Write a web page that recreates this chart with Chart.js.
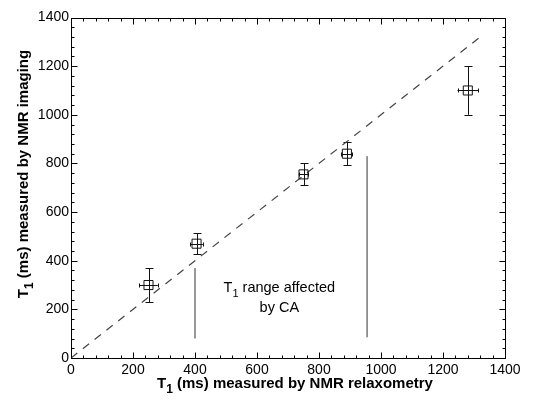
<!DOCTYPE html>
<html>
<head>
<meta charset="utf-8">
<script src="https://cdn.jsdelivr.net/npm/chart.js@4.4.0/dist/chart.umd.min.js"></script>
<style>
    html, body { margin: 0; padding: 0; background: #fff; }
    #wrap { width: 549px; height: 407px; }
</style>
</head>
<body>
<div id="wrap"><canvas id="graficoT1"></canvas></div>
<script>
// T1 (ms) por relaxometria vs imagen
const relaxT1    = [250, 405, 750, 890, 1280];
const relaxErr   = [30, 20, 15, 18, 33];
const imagingT1  = [300, 470, 755, 840, 1100];
const imagingErr = [70, 43, 45, 47, 100];

// linea de identidad y = x
const identityX = [0, 1320];

// rango afectado por CA (dos lineas verticales)
const caX      = [400, 955];
const caBottom = [80, 85];
const caTop    = [370, 830];

const axisMin = 0;
const axisMax = 1400;
const majorStep = 200;
const minorStep = 40;

const fontName = "'Liberation Sans', Arial, Helvetica, sans-serif";

// texto con subindice: partes [{t, sub}]
function drawSubText(ctx, parts, cx, cy, size, weight){
    const big = weight + " " + size + "px " + fontName;
    const small = weight + " " + Math.round(size * 0.78) + "px " + fontName;
    let total = 0;
    parts.forEach(function(p){
        ctx.font = p.sub ? small : big;
        total += ctx.measureText(p.t).width;
    });
    let x = cx - total / 2;
    ctx.textAlign = "left";
    ctx.textBaseline = "alphabetic";
    parts.forEach(function(p){
        ctx.font = p.sub ? small : big;
        ctx.fillText(p.t, x, cy + (p.sub ? size * 0.3 : 0));
        x += ctx.measureText(p.t).width;
    });
}

const errorBars = {
    id: "errorBars",
    beforeDatasetsDraw(chart){
        const ctx = chart.ctx;
        const x = chart.scales.x;
        const y = chart.scales.y;
        ctx.save();
        ctx.strokeStyle = "#111";
        ctx.lineWidth = 1;
        relaxT1.forEach(function(v, i){
            const px = Math.round(x.getPixelForValue(v)) + 0.5;
            const py = Math.round(y.getPixelForValue(imagingT1[i])) + 0.5;
            const yTop = y.getPixelForValue(imagingT1[i] + imagingErr[i]);
            const yBot = y.getPixelForValue(imagingT1[i] - imagingErr[i]);
            const xL = x.getPixelForValue(v - relaxErr[i]);
            const xR = x.getPixelForValue(v + relaxErr[i]);
            ctx.beginPath();
            ctx.moveTo(px, yTop); ctx.lineTo(px, yBot);
            ctx.moveTo(px - 4, Math.round(yTop) + 0.5); ctx.lineTo(px + 4, Math.round(yTop) + 0.5);
            ctx.moveTo(px - 4, Math.round(yBot) + 0.5); ctx.lineTo(px + 4, Math.round(yBot) + 0.5);
            ctx.moveTo(xL, py); ctx.lineTo(xR, py);
            ctx.moveTo(Math.round(xL) + 0.5, py - 2); ctx.lineTo(Math.round(xL) + 0.5, py + 2);
            ctx.moveTo(Math.round(xR) + 0.5, py - 2); ctx.lineTo(Math.round(xR) + 0.5, py + 2);
            ctx.stroke();
        });
        ctx.restore();
    }
};

const marco = {
    id: "marco",
    afterDraw(chart){
        const ctx = chart.ctx;
        const a = chart.chartArea;
        const x = chart.scales.x;
        const y = chart.scales.y;
        ctx.save();
        ctx.strokeStyle = "#000";
        ctx.lineWidth = 1;
        const L = Math.round(a.left) + 0.5, R = Math.round(a.right) + 0.5;
        const T = Math.round(a.top) + 0.5, B = Math.round(a.bottom) + 0.5;
        ctx.strokeRect(L, T, R - L, B - T);
        ctx.beginPath();
        for(let v = axisMin; v <= axisMax; v += minorStep){
            const len = (v % majorStep === 0) ? 6 : 3;
            const px = Math.round(x.getPixelForValue(v)) + 0.5;
            const py = Math.round(y.getPixelForValue(v)) + 0.5;
            ctx.moveTo(px, B); ctx.lineTo(px, B - len);
            ctx.moveTo(px, T); ctx.lineTo(px, T + len);
            ctx.moveTo(L, py); ctx.lineTo(L + len, py);
            ctx.moveTo(R, py); ctx.lineTo(R - len, py);
        }
        ctx.stroke();

        ctx.fillStyle = "#000";
        // anotacion
        drawSubText(ctx, [{t: "T"}, {t: "1", sub: true}, {t: " range affected"}],
            x.getPixelForValue(672), y.getPixelForValue(270), 14.5, "normal");
        drawSubText(ctx, [{t: "by CA"}],
            x.getPixelForValue(672), y.getPixelForValue(188), 14.5, "normal");

        // titulos de ejes
        drawSubText(ctx, [{t: "T"}, {t: "1", sub: true}, {t: " (ms) measured by NMR relaxometry"}],
            (a.left + a.right) / 2 + 7, 388, 15, "bold");
        ctx.save();
        ctx.translate(28, 174);
        ctx.rotate(-Math.PI / 2);
        drawSubText(ctx, [{t: "T"}, {t: "1", sub: true}, {t: " (ms) measured by NMR imaging"}],
            0, 0, 15, "bold");
        ctx.restore();
        ctx.restore();
    }
};

const datasets = [
    {
        label: "T1",
        data: relaxT1.map(function(v, i){ return {x: v, y: imagingT1[i]}; }),
        pointStyle: "rect",
        pointRadius: 6.4,
        pointBorderWidth: 1,
        pointBorderColor: "#111",
        pointBackgroundColor: "rgba(0,0,0,0)",
        showLine: false,
        order: 1
    },
    {
        label: "identidad",
        data: identityX.map(function(v){ return {x: v, y: v}; }),
        showLine: true,
        borderColor: "#444",
        borderWidth: 1.2,
        borderDash: [8, 7],
        pointRadius: 0,
        order: 2
    }
];

caX.forEach(function(v, i){
    datasets.push({
        label: "CA" + i,
        data: [{x: v, y: caBottom[i]}, {x: v, y: caTop[i]}],
        showLine: true,
        borderColor: "#333",
        borderWidth: 1,
        pointRadius: 0,
        order: 3
    });
});

function plainTick(value){
    return String(value);
}

new Chart(document.getElementById("graficoT1"), {
    type: "scatter",
    data: { datasets: datasets },
    plugins: [errorBars, marco],
    options: {
        responsive: true,
        maintainAspectRatio: false,
        animation: false,
        layout: { padding: { top: 17.5, right: 44, left: 0, bottom: 0 } },
        plugins: {
            legend: { display: false },
            tooltip: { enabled: false }
        },
        scales: {
            x: {
                type: "linear",
                min: axisMin,
                max: axisMax,
                grid: { display: false, drawTicks: false },
                border: { display: false },
                ticks: {
                    stepSize: majorStep,
                    padding: 4,
                    color: "#000",
                    maxRotation: 0,
                    callback: plainTick,
                    font: { family: fontName, size: 14 }
                },
                afterFit: function(scale){ scale.height = 49; }
            },
            y: {
                type: "linear",
                min: axisMin,
                max: axisMax,
                grid: { display: false, drawTicks: false },
                border: { display: false },
                ticks: {
                    stepSize: majorStep,
                    padding: 2,
                    color: "#000",
                    callback: plainTick,
                    font: { family: fontName, size: 14 }
                },
                afterFit: function(scale){ scale.width = 71; }
            }
        }
    }
});
</script>
</body>
</html>
